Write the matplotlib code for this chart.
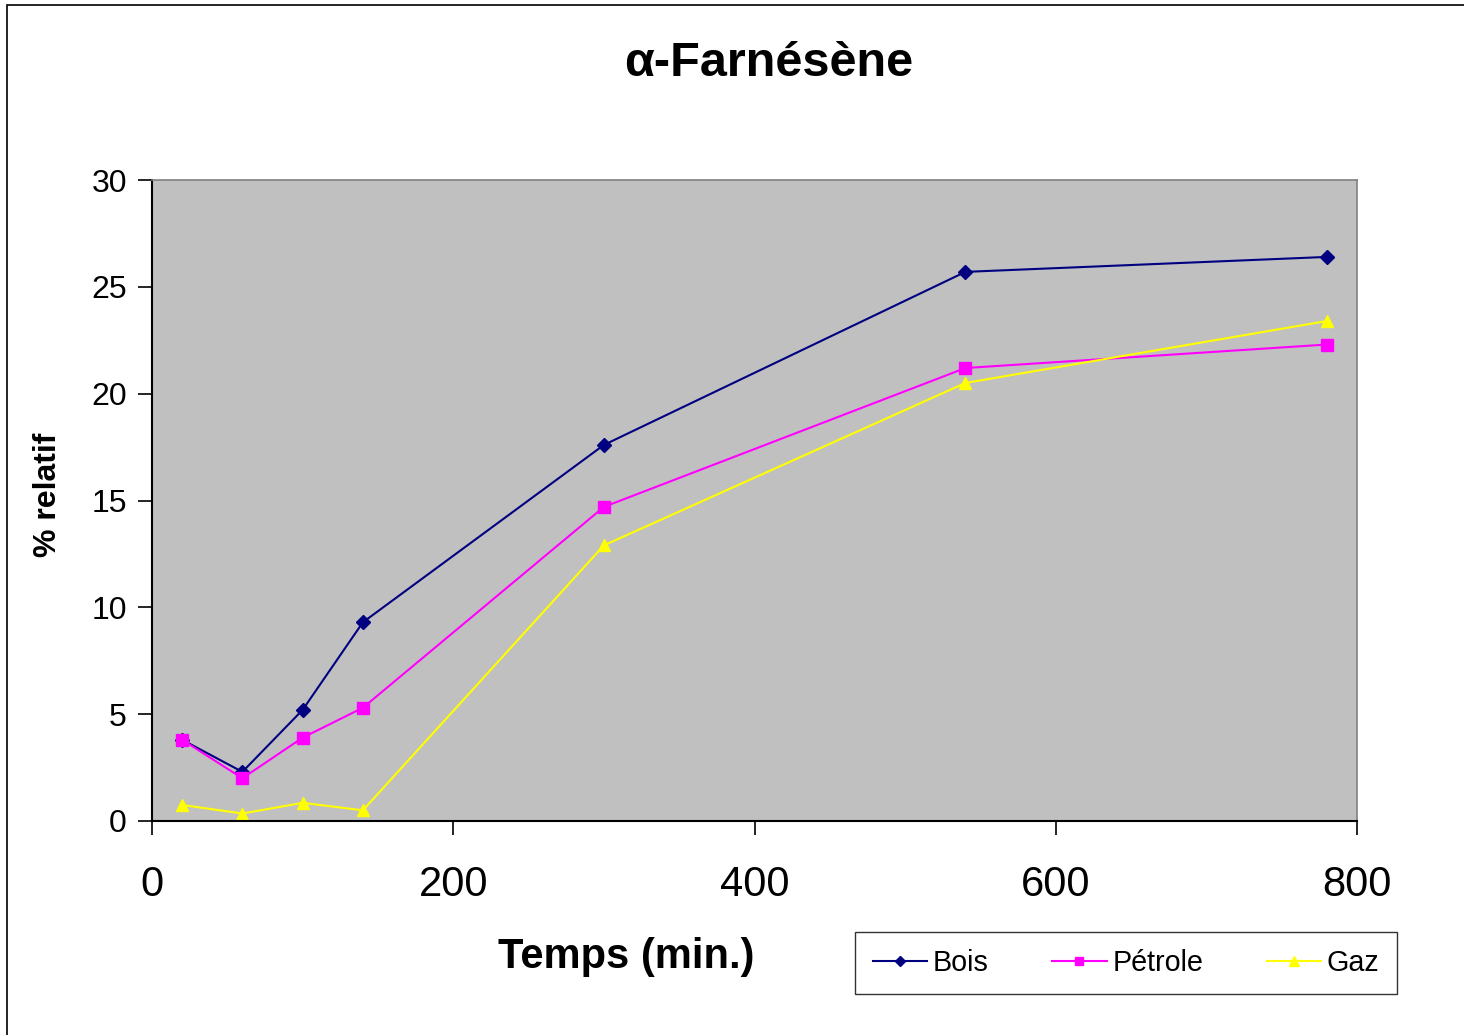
import matplotlib
matplotlib.use("Agg")
import matplotlib.pyplot as plt
from matplotlib.patches import Rectangle

plt.rcParams['font.family'] = ['Liberation Sans', 'DejaVu Sans']

# Données
temps = [20, 60, 100, 140, 300, 540, 780]
bois = [3.8, 2.3, 5.2, 9.3, 17.6, 25.7, 26.4]
petrole = [3.8, 2.0, 3.9, 5.3, 14.7, 21.2, 22.3]
gaz = [0.75, 0.35, 0.85, 0.5, 12.9, 20.5, 23.4]

fig = plt.figure(figsize=(14.64, 10.35), dpi=100)
fig.patches.append(Rectangle((7 / 1464, -0.1), 1.2, 1 - 5 / 1035 + 0.1,
                             transform=fig.transFigure, fill=False,
                             edgecolor='black', linewidth=1.2))

ax = fig.add_axes([152 / 1464, 1 - 821 / 1035, 1205 / 1464, 641 / 1035])
ax.set_facecolor('#c0c0c0')

ax.plot(temps, bois, color='#000080', marker='D', markersize=7, linewidth=1.5, label='Bois')
ax.plot(temps, petrole, color='#ff00ff', marker='s', markersize=8, linewidth=1.5, label='Pétrole')
ax.plot(temps, gaz, color='#ffff00', marker='^', markersize=9, linewidth=1.5, label='Gaz')

ax.set_xlim(0, 800)
ax.set_ylim(0, 30)
ax.set_xticks([0, 200, 400, 600, 800])
ax.set_yticks([0, 5, 10, 15, 20, 25, 30])
ax.tick_params(axis='x', labelsize=30, length=10, width=1.2, pad=22)
ax.tick_params(axis='y', labelsize=23, length=10, width=1.2, pad=8)

for side in ['top', 'right']:
    ax.spines[side].set_color('#808080')
    ax.spines[side].set_linewidth(1.2)
for side in ['left', 'bottom']:
    ax.spines[side].set_color('black')
    ax.spines[side].set_linewidth(1.5)

fig.text(48 / 1464, 1 - 495 / 1035, '% relatif', fontsize=23, fontweight='bold',
         ha='center', va='center', rotation=90)
fig.text(626 / 1464, 1 - 957 / 1035, 'Temps (min.)', fontsize=30, fontweight='bold',
         ha='center', va='center')
fig.text(769 / 1464, 1 - 64 / 1035, 'α-Farnésène', fontsize=35, fontweight='bold',
         ha='center', va='center')

leg = fig.legend(loc='center', bbox_to_anchor=(1126 / 1464, 1 - 963 / 1035), ncol=3,
                 fontsize=20.7, frameon=True, fancybox=False, edgecolor='black',
                 handlelength=1.9, handletextpad=0.2, columnspacing=2.2,
                 borderpad=0.6, borderaxespad=0, markerscale=0.8)
leg.get_frame().set_linewidth(1.0)

fig.savefig('out.png', dpi=100)
